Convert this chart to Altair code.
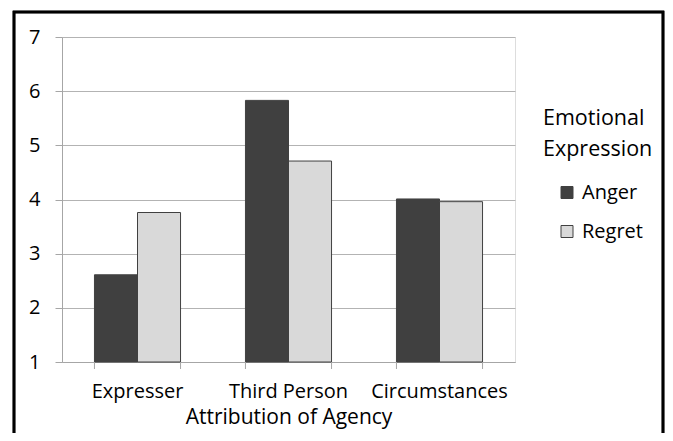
import altair as alt
import pandas as pd

categories = ["Expresser", "Third Person", "Circumstances"]
series = ["Anger", "Regret"]
anger = [2.61, 5.83, 4.01]
regret = [3.76, 4.71, 3.96]

rows = []
for c, a, r in zip(categories, anger, regret):
    rows.append({"agency": c, "emotion": "Anger", "value": a})
    rows.append({"agency": c, "emotion": "Regret", "value": r})
df = pd.DataFrame(rows)
cat_df = pd.DataFrame({"agency": categories})

FONT = "Open Sans"
GRID = "#b3b3b3"
AXIS = "#a6a6a6"

xscale = alt.Scale(domain=categories, paddingInner=0.43, paddingOuter=0.215)
xaxis = alt.Axis(title="Attribution of Agency", labelAngle=0, ticks=False,
                 domainColor=AXIS, labelFontSize=20, titleFontSize=21,
                 titleFontWeight="normal", labelPadding=19, titlePadding=5,
                 labelColor="#000000", titleColor="#000000",
                 labelFont=FONT, titleFont=FONT)
yscale = alt.Scale(domain=[1, 7], nice=False, zero=False)

bars = alt.Chart(df).mark_bar(stroke="#404040", strokeWidth=1).encode(
    x=alt.X("agency:N", scale=xscale, sort=categories, axis=xaxis),
    xOffset=alt.XOffset("emotion:N", sort=series),
    y=alt.Y("value:Q", scale=yscale,
            axis=alt.Axis(title=None, values=[1, 2, 3, 4, 5, 6, 7], grid=True,
                          gridColor=GRID, domainColor=AXIS, tickColor=AXIS,
                          tickSize=7, labelFontSize=20, labelPadding=15,
                          labelColor="#000000", labelFont=FONT)),
    y2=alt.datum(1),
    color=alt.Color("emotion:N", sort=series,
                    scale=alt.Scale(domain=series, range=["#404040", "#d9d9d9"]),
                    legend=alt.Legend(title=["Emotional", "Expression"], orient="none",
                                      legendX=481, legendY=71, titleFontSize=21.5,
                                      titleFontWeight="normal", titleFont=FONT,
                                      titleLineHeight=31, titlePadding=22,
                                      labelFontSize=20, labelFont=FONT,
                                      labelColor="#000000", titleColor="#000000",
                                      symbolType="square", symbolSize=144,
                                      symbolStrokeColor="#404040", symbolStrokeWidth=1,
                                      symbolOffset=14, rowPadding=19, labelOffset=5)),
)

def tick_layer(bp):
    return alt.Chart(cat_df).mark_rule(color=AXIS, strokeWidth=1).encode(
        x=alt.X("agency:N", scale=xscale, sort=categories, axis=xaxis, bandPosition=bp),
        y=alt.value(325), y2=alt.value(332),
    )

frame = alt.Chart(cat_df).mark_rect(fill=None, stroke="#000000", strokeWidth=2.5, clip=False).encode(
    x=alt.value(-48), x2=alt.value(601), y=alt.value(-25), y2=alt.value(430)
)

chart = alt.layer(bars, tick_layer(0), tick_layer(1), frame).properties(
    width=453, height=325,
    autosize=alt.AutoSizeParams(type="none"),
    padding={"left": 54, "top": 29, "right": 150, "bottom": 71},
).configure_view(stroke=None).configure(background="white")

chart.save("out.html", embed_options={"renderer": "svg", "actions": False})
